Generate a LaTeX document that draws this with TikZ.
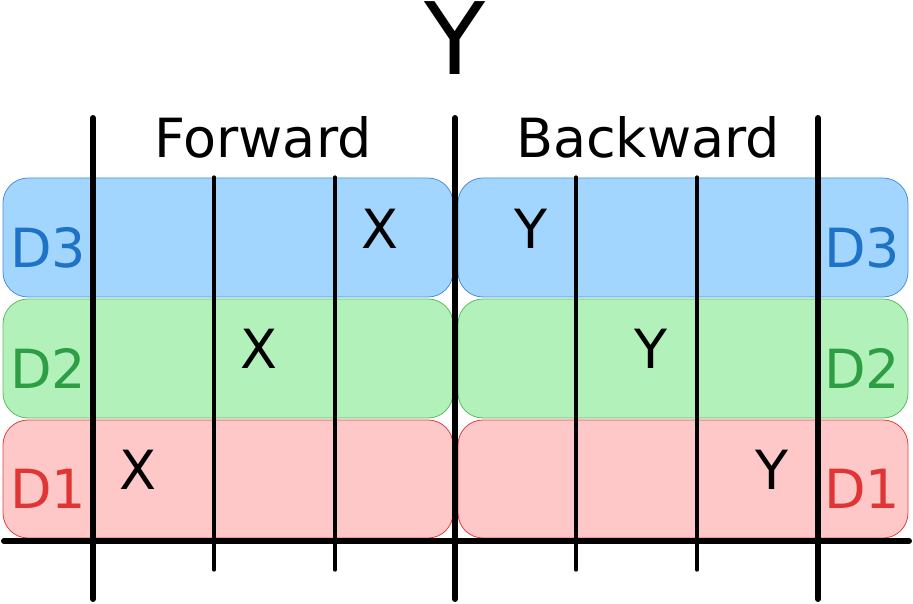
\documentclass[tikz,border=0pt]{standalone}
\usepackage{fontspec}
\setmainfont{DejaVu Sans}
\definecolor{dthreefill}{HTML}{A3D6FF}
\definecolor{dthreeline}{HTML}{4A90D9}
\definecolor{dthreetext}{HTML}{1E73C6}
\definecolor{dtwofill}{HTML}{B3F1BB}
\definecolor{dtwoline}{HTML}{5DBB63}
\definecolor{dtwotext}{HTML}{2E9E44}
\definecolor{donefill}{HTML}{FFC8C8}
\definecolor{doneline}{HTML}{E04040}
\definecolor{donetext}{HTML}{E03535}
\begin{document}
\begin{tikzpicture}[x=1pt, y=-1pt,
  band/.style={rounded corners=25pt, line width=0.8pt},
  txt/.style={anchor=base, inner sep=0pt, font=\fontsize{54}{54}\selectfont},
  axis/.style={line width=6pt, line cap=round},
  tick/.style={line width=3.2pt, line cap=round}]
\useasboundingbox (0,0) rectangle (913,604);

% bands
\draw[band, fill=dthreefill, draw=dthreeline] (3,178) rectangle (453,297);
\draw[band, fill=dthreefill, draw=dthreeline] (458,178) rectangle (908,297);
\draw[band, fill=dtwofill, draw=dtwoline] (3,299) rectangle (453,418);
\draw[band, fill=dtwofill, draw=dtwoline] (458,299) rectangle (908,418);
\draw[band, fill=donefill, draw=doneline] (3,420) rectangle (453,538);
\draw[band, fill=donefill, draw=doneline] (458,420) rectangle (908,538);

% grid
\coordinate (ax0) at (4,541);
\coordinate (ax1) at (909,541);
\draw[axis] (ax0) -- (ax1);
\foreach \x in {93,455,818} {
  \draw[axis] (\x,118) -- (\x,599);
}
\foreach \x in {214,335,576,697} {
  \draw[tick] (\x,177) -- (\x,570);
}

% labels
\node[txt, font=\fontsize{100}{100}\selectfont] (title) at (455,75) {Y};
\node[txt] (fwd) at (263,158) {Forward};
\node[txt] (bwd) at (648,158) {Backward};

\node[txt, text=dthreetext] (d3l) at (48,268) {D3};
\node[txt, text=dtwotext] (d2l) at (48,388) {D2};
\node[txt, text=donetext] (d1l) at (48,508) {D1};
\node[txt, text=dthreetext] (d3r) at (862,268) {D3};
\node[txt, text=dtwotext] (d2r) at (862,388) {D2};
\node[txt, text=donetext] (d1r) at (862,508) {D1};

\node[txt] (x3) at (380,248) {X};
\node[txt] (x2) at (259,368) {X};
\node[txt] (x1) at (138,489) {X};
\node[txt] (y3) at (531,248) {Y};
\node[txt] (y2) at (651,368) {Y};
\node[txt] (y1) at (772,489) {Y};
\end{tikzpicture}
\end{document}
